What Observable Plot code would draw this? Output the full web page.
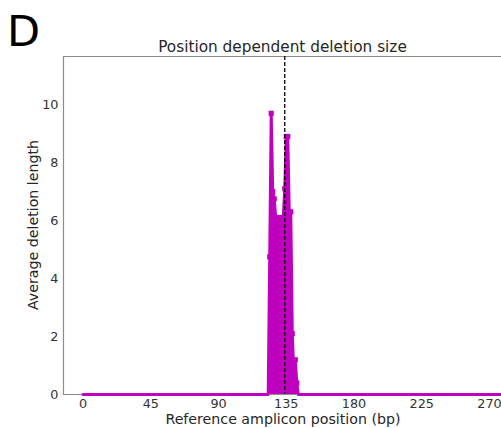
<!DOCTYPE html>
<html>
<head>
<meta charset="utf-8">
<script src="https://cdn.jsdelivr.net/npm/d3@7"></script>
<script src="https://cdn.jsdelivr.net/npm/@observablehq/plot@0.6"></script>
<style>
  html, body { margin: 0; padding: 0; background: #fff; overflow: hidden; }
  #chart { position: relative; width: 501px; height: 428px; }
</style>
</head>
<body>
<div id="chart"></div>
<script>
// Data
const positions   = [0, 123, 124, 125, 126, 127, 128, 129, 130, 131, 132, 133, 134, 135, 136, 137, 138, 139, 140, 141, 142, 143, 290];
const avgDeletion = [0, 0, 4.75, 9.7, 7.0, 6.75, 6.1, 6.1, 6.1, 6.1, 6.1, 6.1, 7.1, 8.9, 8.9, 6.3, 6.3, 2.1, 0.8, 1.2, 0.4, 0, 0];
const cutSite = [134];
const xTicks = [0, 45, 90, 135, 180, 225, 270];
const yTicks = [0, 2, 4, 6, 8, 10];
const xDomain = [-13, 278];
const yDomain = [0, 11.66];
const panelLetter = "D";
const title = "Position dependent deletion size";
const xLabel = "Reference amplicon position (bp)";
const yLabel = "Average deletion length";

const data = positions.map((p, i) => ({pos: p, val: avgDeletion[i]}));
const markers = data.filter(d => d.val > 0);
const magenta = "#bf00bf";
const spine = "#8c8c8c";

const plot = Plot.plot({
  width: 501,
  height: 428,
  marginLeft: 63,
  marginRight: 0,
  marginTop: 56,
  marginBottom: 34,
  style: {fontFamily: "DejaVu Sans", fontSize: "12.8px", color: "#333", background: "#fff", overflow: "hidden"},
  x: {domain: xDomain, ticks: xTicks, tickSize: 0, tickPadding: 4, label: null},
  y: {domain: yDomain, ticks: yTicks, tickSize: 0, tickPadding: 5, label: null},
  marks: [
    Plot.frame({anchor: "left", stroke: spine, strokeWidth: 1.2}),
    Plot.frame({anchor: "top", stroke: spine, strokeWidth: 1.2}),
    Plot.frame({anchor: "bottom", stroke: spine, strokeWidth: 1.2}),
    Plot.areaY(data, {x: "pos", y: "val", fill: magenta}),
    Plot.lineY(data, {x: "pos", y: "val", stroke: magenta, strokeWidth: 3}),
    Plot.dot(markers, {x: "pos", y: "val", symbol: "square", r: 2.9, fill: magenta, stroke: "none"}),
    Plot.ruleX(cutSite, {stroke: "#000", strokeWidth: 1.3, strokeDasharray: "4,2"})
  ]
});

const svg = d3.select(plot);
svg.append("text").text(panelLetter)
  .attr("x", 7).attr("y", 46).attr("text-anchor", "start")
  .attr("font-family", "DejaVu Sans").attr("font-size", 43).attr("fill", "#000");
svg.append("text").text(title)
  .attr("x", 282.5).attr("y", 52).attr("text-anchor", "middle")
  .attr("font-family", "DejaVu Sans").attr("font-size", 15.3).attr("fill", "#262626");
svg.append("text").text(xLabel)
  .attr("x", 283).attr("y", 424).attr("text-anchor", "middle")
  .attr("font-family", "DejaVu Sans").attr("font-size", 14.2).attr("fill", "#262626");
svg.append("text").text(yLabel)
  .attr("transform", "translate(38,225) rotate(-90)").attr("text-anchor", "middle")
  .attr("font-family", "DejaVu Sans").attr("font-size", 14.2).attr("fill", "#262626");

document.getElementById("chart").appendChild(plot);
</script>
</body>
</html>
